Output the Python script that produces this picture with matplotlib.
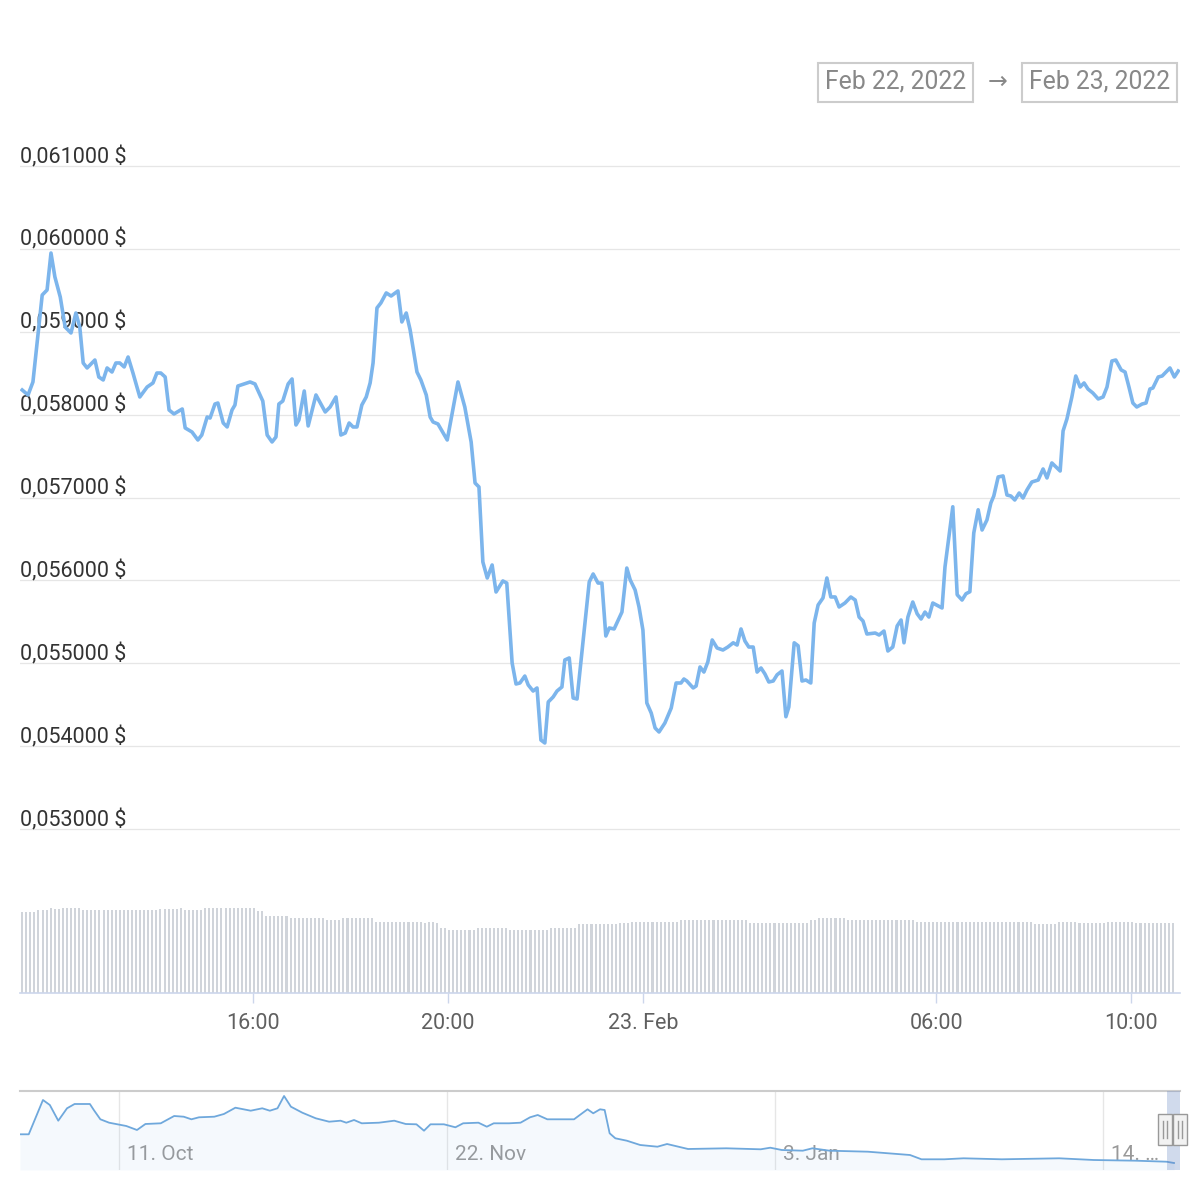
import matplotlib
matplotlib.use("Agg")
import matplotlib.pyplot as plt
from matplotlib.patches import Rectangle
from matplotlib.lines import Line2D
import numpy as np

plt.rcParams["font.family"] = ["Roboto", "DejaVu Sans"]

# price series: hours since Feb 22 00:00, price in $
hours = [
    11.27, 11.39, 11.49, 11.68, 11.78, 11.86, 11.94, 12.05, 12.15, 12.27,
    12.37, 12.45, 12.52, 12.60, 12.76, 12.84, 12.93, 13.01, 13.11, 13.19,
    13.27, 13.36, 13.44, 13.54, 13.68, 13.83, 13.95, 14.03, 14.11, 14.20,
    14.28, 14.38, 14.55, 14.61, 14.75, 14.87, 14.95, 15.06, 15.12, 15.22,
    15.28, 15.39, 15.47, 15.57, 15.63, 15.69, 15.94, 16.04, 16.20, 16.29,
    16.39, 16.47, 16.53, 16.61, 16.72, 16.80, 16.88, 16.94, 17.05, 17.13,
    17.29, 17.48, 17.58, 17.70, 17.80, 17.89, 17.97, 18.05, 18.13, 18.23,
    18.32, 18.40, 18.46, 18.54, 18.62, 18.73, 18.83, 18.97, 19.05, 19.14,
    19.22, 19.36, 19.44, 19.55, 19.63, 19.69, 19.79, 19.98, 20.20, 20.34,
    20.47, 20.55, 20.63, 20.71, 20.80, 20.90, 20.98, 21.12, 21.20, 21.31,
    21.39, 21.47, 21.57, 21.64, 21.74, 21.82, 21.90, 21.98, 22.05, 22.15,
    22.23, 22.33, 22.39, 22.48, 22.56, 22.64, 22.76, 22.89, 22.97, 23.07,
    23.15, 23.23, 23.30, 23.40, 23.56, 23.66, 23.73, 23.83, 23.91, 23.99,
    24.07, 24.16, 24.24, 24.32, 24.44, 24.57, 24.67, 24.77, 24.83, 24.89,
    25.02, 25.08, 25.16, 25.24, 25.32, 25.41, 25.51, 25.63, 25.73, 25.84,
    25.92, 26.00, 26.08, 26.16, 26.25, 26.33, 26.41, 26.49, 26.57, 26.66,
    26.74, 26.84, 26.92, 26.98, 27.09, 27.17, 27.25, 27.33, 27.43, 27.50,
    27.58, 27.68, 27.76, 27.84, 27.93, 28.01, 28.13, 28.25, 28.34, 28.42,
    28.50, 28.58, 28.75, 28.83, 28.93, 29.01, 29.11, 29.20, 29.28, 29.34,
    29.42, 29.52, 29.61, 29.69, 29.77, 29.85, 29.93, 30.12, 30.18, 30.34,
    30.43, 30.53, 30.61, 30.69, 30.77, 30.86, 30.94, 31.04, 31.12, 31.18,
    31.27, 31.37, 31.45, 31.53, 31.61, 31.70, 31.78, 31.86, 31.96, 32.09,
    32.19, 32.27, 32.37, 32.54, 32.60, 32.68, 32.78, 32.86, 32.95, 33.03,
    33.11, 33.21, 33.32, 33.42, 33.50, 33.60, 33.68, 33.79, 33.87, 33.95,
    34.03, 34.11, 34.22, 34.30, 34.38, 34.44, 34.55, 34.63, 34.71, 34.79,
    34.88, 34.96,
]
prices = [
    0.058297, 0.058237, 0.058394, 0.059443, 0.059504, 0.059950, 0.059661, 0.059419, 0.059057, 0.058985,
    0.059226, 0.059057, 0.058623, 0.058563, 0.058659, 0.058454, 0.058418, 0.058563, 0.058514, 0.058623,
    0.058623, 0.058575, 0.058695, 0.058502, 0.058213, 0.058333, 0.058382, 0.058502, 0.058502, 0.058454,
    0.058056, 0.058008, 0.058068, 0.057839, 0.057790, 0.057694, 0.057754, 0.057971, 0.057959, 0.058128,
    0.058140, 0.057899, 0.057851, 0.058056, 0.058116, 0.058345, 0.058394, 0.058370, 0.058164, 0.057754,
    0.057670, 0.057730, 0.058128, 0.058164, 0.058370, 0.058430, 0.057875, 0.057935, 0.058285, 0.057863,
    0.058237, 0.058032, 0.058092, 0.058213, 0.057754, 0.057778, 0.057899, 0.057851, 0.057851, 0.058116,
    0.058213, 0.058382, 0.058623, 0.059287, 0.059347, 0.059468, 0.059431, 0.059492, 0.059118, 0.059226,
    0.059021, 0.058514, 0.058418, 0.058237, 0.057971, 0.057911, 0.057887, 0.057694, 0.058394, 0.058092,
    0.057670, 0.057175, 0.057127, 0.056222, 0.056029, 0.056186, 0.055860, 0.055993, 0.055968, 0.055003,
    0.054750, 0.054762, 0.054846, 0.054738, 0.054665, 0.054702, 0.054074, 0.054038, 0.054533, 0.054593,
    0.054665, 0.054714, 0.055040, 0.055064, 0.054581, 0.054569, 0.055247, 0.055981, 0.056077, 0.055968,
    0.055968, 0.055329, 0.055426, 0.055414, 0.055618, 0.056149, 0.056005, 0.055884, 0.055679, 0.055401,
    0.054521, 0.054400, 0.054219, 0.054171, 0.054279, 0.054460, 0.054762, 0.054762, 0.054810, 0.054786,
    0.054702, 0.054726, 0.054955, 0.054894, 0.055015, 0.055281, 0.055184, 0.055160, 0.055196, 0.055247,
    0.055220, 0.055414, 0.055269, 0.055196, 0.055196, 0.054894, 0.054943, 0.054871, 0.054774, 0.054786,
    0.054861, 0.054907, 0.054355, 0.054473, 0.055247, 0.055211, 0.054786, 0.054798, 0.054762, 0.055486,
    0.055703, 0.055788, 0.056029, 0.055800, 0.055800, 0.055679, 0.055727, 0.055800, 0.055763, 0.055558,
    0.055510, 0.055353, 0.055365, 0.055341, 0.055389, 0.055148, 0.055196, 0.055450, 0.055522, 0.055247,
    0.055558, 0.055739, 0.055597, 0.055534, 0.055618, 0.055558, 0.055727, 0.055667, 0.056162, 0.056888,
    0.055827, 0.055763, 0.055839, 0.055863, 0.056572, 0.056852, 0.056608, 0.056729, 0.056934, 0.057018,
    0.057248, 0.057260, 0.057030, 0.057018, 0.056970, 0.057054, 0.056994, 0.057091, 0.057187, 0.057211,
    0.057344, 0.057236, 0.057417, 0.057320, 0.057803, 0.057950, 0.058213, 0.058466, 0.058333, 0.058382,
    0.058309, 0.058261, 0.058189, 0.058213, 0.058333, 0.058647, 0.058659, 0.058539, 0.058514, 0.058333,
    0.058140, 0.058092, 0.058128, 0.058140, 0.058309, 0.058321, 0.058454, 0.058466, 0.058514, 0.058563,
    0.058454, 0.058526,
]

# volume, one bar per 5 minutes starting 11:16 (one row per hour)
vol_start = 11.27
volume = [
    81, 81, 81, 81, 83, 83, 83, 85, 84, 84, 85, 85,
    85, 85, 85, 83, 83, 83, 83, 83, 83, 83, 83, 83,
    83, 83, 83, 83, 83, 83, 83, 83, 83, 83, 84, 84,
    84, 84, 84, 85, 83, 83, 83, 83, 83, 85, 85, 85,
    85, 85, 85, 85, 85, 85, 85, 85, 85, 85, 82, 82,
    77, 77, 77, 77, 77, 77, 75, 75, 75, 75, 75, 75,
    75, 75, 75, 73, 73, 73, 73, 75, 75, 75, 75, 75,
    75, 75, 75, 71, 71, 71, 71, 71, 71, 71, 71, 71,
    71, 71, 71, 70, 71, 71, 70, 65, 65, 63, 63, 63,
    63, 63, 63, 63, 65, 65, 65, 65, 65, 65, 65, 65,
    63, 63, 63, 63, 63, 63, 63, 63, 63, 63, 65, 65,
    65, 65, 65, 65, 65, 69, 69, 69, 69, 69, 69, 69,
    69, 69, 69, 70, 70, 70, 71, 71, 71, 71, 71, 71,
    71, 71, 71, 71, 71, 71, 73, 73, 73, 73, 73, 73,
    73, 73, 73, 73, 73, 73, 73, 73, 73, 73, 73, 70,
    70, 70, 70, 70, 70, 70, 70, 70, 70, 70, 70, 70,
    70, 70, 73, 73, 75, 75, 75, 75, 75, 75, 75, 73,
    73, 73, 73, 73, 73, 73, 73, 73, 73, 73, 73, 73,
    73, 73, 73, 73, 71, 71, 71, 71, 71, 71, 71, 71,
    71, 71, 71, 71, 71, 71, 71, 71, 71, 71, 71, 71,
    71, 71, 71, 71, 71, 71, 71, 71, 71, 69, 69, 69,
    69, 69, 69, 71, 71, 71, 71, 71, 70, 70, 70, 70,
    70, 70, 70, 71, 71, 71, 71, 71, 71, 71, 70, 70,
    70, 70, 70, 70, 70, 70, 70, 70,
]

price_ticks = [0.053, 0.054, 0.055, 0.056, 0.057, 0.058, 0.059, 0.060, 0.061]
time_ticks = [16, 20, 24, 30, 34]
time_labels = ["16:00", "20:00", "23. Feb", "06:00", "10:00"]

# navigator: days since 11 Oct 2021, price in $
nav_days = [
    -12.69, -11.56, -9.74, -8.86, -7.78, -6.66, -5.69, -3.73, -3.23, -2.39,
    -1.27, 0.93, 2.30, 3.38, 5.34, 7.06, 8.28, 9.27, 10.24, 12.20,
    13.43, 14.90, 16.86, 18.34, 19.31, 20.29, 21.13, 22.01, 23.47, 25.19,
    26.90, 28.37, 29.10, 30.09, 31.08, 33.28, 35.24, 36.71, 38.08, 39.05,
    39.88, 41.60, 43.07, 44.06, 46.02, 47.09, 47.98, 49.94, 51.41, 52.63,
    53.61, 54.84, 56.80, 58.26, 59.00, 59.99, 60.72, 61.59, 62.18, 62.82,
    63.55, 65.02, 66.73, 68.94, 70.17, 72.86, 77.76, 82.16, 83.39, 84.86,
    87.55, 88.78, 90.98, 95.89, 101.28, 102.75, 105.68, 108.14, 113.03, 120.38,
    124.80, 130.19, 134.11, 135.08,
]
nav_prices = [
    0.2015, 0.2015, 0.373, 0.348, 0.2695, 0.3315, 0.353, 0.353, 0.323, 0.2765,
    0.2595, 0.243, 0.223, 0.253, 0.2565, 0.293, 0.2895, 0.2765, 0.2865, 0.2895,
    0.303, 0.3345, 0.3195, 0.3315, 0.3195, 0.3315, 0.393, 0.3395, 0.3095, 0.2815,
    0.2645, 0.2695, 0.2595, 0.273, 0.2565, 0.2595, 0.2695, 0.253, 0.2515, 0.2195,
    0.2515, 0.2515, 0.2365, 0.2565, 0.2595, 0.2395, 0.2565, 0.2565, 0.2595, 0.2865,
    0.298, 0.2765, 0.2765, 0.2765, 0.298, 0.3265, 0.3065, 0.3265, 0.323, 0.2065,
    0.1815, 0.1695, 0.148, 0.1395, 0.153, 0.128, 0.1315, 0.1265, 0.1345, 0.123,
    0.1195, 0.1315, 0.1195, 0.1145, 0.098, 0.0765, 0.0765, 0.0815, 0.0765, 0.0815,
    0.073, 0.0695, 0.0645, 0.058,
]
nav_ticks = [0, 42, 84, 126]
nav_labels = ["11. Oct", "22. Nov", "3. Jan", "14. \u2026"]

W, H = 1200, 1200
fig = plt.figure(figsize=(12, 12), dpi=100)


def px_axes(x0, y0, x1, y1):
    return fig.add_axes([x0 / W, 1 - y1 / H, (x1 - x0) / W, (y1 - y0) / H])


def fx(x):
    return x / W


def fy(y):
    return 1 - y / H


xlim = (11.225, 34.996)

# ---- price panel
ax = px_axes(20, 130, 1180, 850)
ax.set_xlim(*xlim)
ax.set_ylim(0.052747, 0.061434)
for v in price_ticks:
    ax.axhline(v, color="#e6e6e6", lw=0.9, zorder=0)
    ax.annotate(("%.6f $" % v).replace(".", ","), xy=(0, v),
                xycoords=ax.get_yaxis_transform(), xytext=(0, -1.5),
                textcoords="offset points", ha="left", va="bottom",
                fontsize=15.5, color="#333333", zorder=1)
ax.plot(hours, prices, color="#7cb5ec", lw=2.6, solid_joinstyle="round", zorder=3)
ax.axis("off")

# ---- volume panel
axv = px_axes(20, 900, 1180, 993)
axv.set_xlim(*xlim)
axv.set_ylim(0, 93)
vol_t = vol_start + np.arange(len(volume)) / 12.0
axv.bar(vol_t, volume, width=0.042, color="#d0d4da", linewidth=0)
for s in ["top", "left", "right"]:
    axv.spines[s].set_visible(False)
axv.spines["bottom"].set_color("#ccd6eb")
axv.spines["bottom"].set_linewidth(1.2)
axv.set_yticks([])
axv.set_xticks(time_ticks)
axv.set_xticklabels(time_labels)
axv.tick_params(axis="x", length=7.5, width=1, color="#ccd6eb", pad=7,
                labelsize=15.5, labelcolor="#606060")

# ---- navigator
axn = px_axes(20, 1091, 1180, 1170)
axn.set_xlim(-12.68, 135.85)
axn.set_ylim(0.023, 0.418)
for d, lab in zip(nav_ticks, nav_labels):
    axn.axvline(d, color="#e6e6e6", lw=1.0, zorder=0)
    axn.annotate(lab, xy=(d, 0.19), xycoords=axn.get_xaxis_transform(),
                 xytext=(5.5, 0), textcoords="offset points", ha="left",
                 va="center", fontsize=15, color="#999999", zorder=1)
axn.fill_between(nav_days, nav_prices, 0.023, color="#7cb5ec", alpha=0.07,
                 lw=0, zorder=2)
axn.plot(nav_days, nav_prices, color="#6fa8dc", lw=1.3, zorder=3)
axn.add_patch(Rectangle((134.19, 0.023), 135.85 - 134.19, 0.418 - 0.023,
                        facecolor="#6685c2", alpha=0.3, lw=0, zorder=4))
for s in ["left", "right", "bottom"]:
    axn.spines[s].set_visible(False)
axn.spines["top"].set_color("#cccccc")
axn.spines["top"].set_linewidth(1.5)
axn.set_xticks([])
axn.set_yticks([])

# navigator handles
for x0 in [1158, 1173]:
    fig.patches.append(Rectangle((fx(x0), fy(1145)), 14 / W, 31 / H,
                                 transform=fig.transFigure, facecolor="#f2f2f2",
                                 edgecolor="#999999", lw=1, zorder=5))
    for dx in [5, 9]:
        fig.lines.append(Line2D([fx(x0 + dx), fx(x0 + dx)], [fy(1121), fy(1138)],
                                transform=fig.transFigure, color="#999999",
                                lw=1, zorder=6))

# ---- date range header
for x0, lab in [(818, "Feb 22, 2022"), (1022, "Feb 23, 2022")]:
    fig.patches.append(Rectangle((fx(x0), fy(102)), 155 / W, 39 / H,
                                 transform=fig.transFigure, facecolor="white",
                                 edgecolor="#cccccc", lw=1.5))
    fig.text(fx(x0 + 77.5), fy(82), lab, ha="center", va="center",
             fontsize=17.8, color="#888888")
fig.text(fx(998), fy(82), "\u2192", ha="center", va="center", fontsize=17,
         color="#888888")

fig.savefig("out.png", dpi=100, facecolor="white")
